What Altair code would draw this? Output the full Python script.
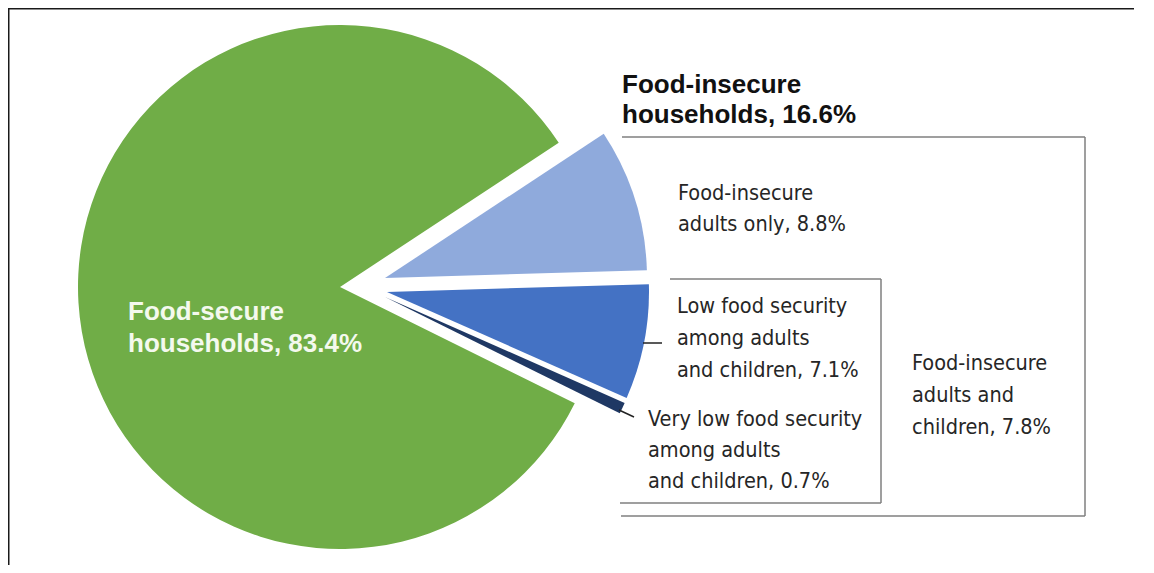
import math
import altair as alt
import pandas as pd

# ---------------- data ----------------
categories = [
    "Food-insecure adults only",
    "Low food security among adults and children",
    "Very low food security among adults and children",
    "Food-secure households",
]
shares = [8.8, 7.1, 0.7, 83.4]
slice_colors = ["#8FAADC", "#4472C4", "#1F3864", "#70AD47"]

title_lines = ["Food-insecure", "households, 16.6%"]
secure_lines = ["Food-secure", "households, 83.4%"]
adults_only_lines = ["Food-insecure", "adults only, 8.8%"]
low_lines = ["Low food security", "among adults", "and children, 7.1%"]
very_low_lines = ["Very low food security", "among adults", "and children, 0.7%"]
adults_children_lines = ["Food-insecure", "adults and", "children, 7.8%"]

# ---------------- layout / style ----------------
W, H = 1138, 557
CX, CY = 332, 279          # pie centre
R = 262                    # pie radius
START = math.radians(56.6)  # angle where the first slice starts
# explosion offsets per slice (pixels)
explode = [(45, -9), (47, 5), (45, 10), (0, 0)]

NARROW = "DejaVu Sans Condensed, Liberation Sans, Arial, sans-serif"
NARROW_SIZE = 21.5
BOLD = "Liberation Sans, Arial, Helvetica, sans-serif"

df = pd.DataFrame({"category": categories, "share": shares, "order": list(range(len(shares)))})

base = (
    alt.Chart(df)
    .transform_window(cum="sum(share)", sort=[alt.SortField("order")], frame=[None, 0])
    .transform_calculate(start="datum.cum - datum.share")
)

theta_scale = alt.Scale(domain=[0, 100], range=[START, START + 2 * math.pi])
color_scale = alt.Scale(domain=categories, range=slice_colors)

layers = []
for i, (dx, dy) in enumerate(explode):
    layers.append(
        base.transform_filter(alt.datum.order == i)
        .mark_arc(radius=R)
        .encode(
            theta=alt.Theta("start:Q", scale=theta_scale),
            theta2="cum:Q",
            color=alt.Color("category:N", scale=color_scale, legend=None),
            x=alt.value(CX + dx),
            y=alt.value(CY + dy),
        )
    )


def rule(x1, y1, x2, y2, color="#7F7F7F", width=1.5):
    return alt.Chart(pd.DataFrame({"a": [0]})).mark_rule(color=color, strokeWidth=width).encode(
        x=alt.value(x1), y=alt.value(y1), x2=alt.value(x2), y2=alt.value(y2)
    )


def text(lines, x, y, size, font, color, weight="normal", line_height=31):
    return alt.Chart(pd.DataFrame({"t": ["\n".join(lines)]})).mark_text(
        align="left", baseline="alphabetic", font=font, fontSize=size, fontWeight=weight,
        color=color, lineBreak="\n", lineHeight=line_height,
    ).encode(x=alt.value(x), y=alt.value(y), text="t:N")


# frame around the figure (left and top edges visible)
layers.append(rule(0, 0.5, W - 12, 0.5, color="#1A1A1A", width=2))
layers.append(rule(0.5, 0, 0.5, H, color="#1A1A1A", width=2))

# outer bracket (food-insecure households)
layers.append(rule(614, 129, 1077, 129))
layers.append(rule(1077, 129, 1077, 508))
layers.append(rule(613, 508, 1077, 508))
# inner bracket (adults and children)
layers.append(rule(662, 271, 873, 271))
layers.append(rule(873, 271, 873, 495))
layers.append(rule(612, 495, 873, 495))
# leader lines
layers.append(rule(635, 335, 654, 335, color="#222222", width=1.5))
layers.append(rule(611, 402, 626, 409, color="#222222", width=1.5))

# labels
layers.append(text(title_lines, 614, 85, 26, BOLD, "#111111", "bold", 30))
layers.append(text(secure_lines, 120, 312, 26, BOLD, "#F4F9EE", "bold", 32))
layers.append(text(adults_only_lines, 670, 192, NARROW_SIZE, NARROW, "#262626", "normal", 31))
layers.append(text(low_lines, 669, 305, NARROW_SIZE, NARROW, "#262626", "normal", 32))
layers.append(text(very_low_lines, 640, 418, NARROW_SIZE, NARROW, "#262626", "normal", 31))
layers.append(text(adults_children_lines, 904, 362, NARROW_SIZE, NARROW, "#262626", "normal", 32))

chart = (
    alt.layer(*layers)
    .properties(width=W, height=H, autosize=alt.AutoSizeParams(type="none"), padding=0)
    .configure_view(strokeWidth=0, stroke="transparent")
)

chart.save("out.html", embed_options={"renderer": "svg", "actions": False})
